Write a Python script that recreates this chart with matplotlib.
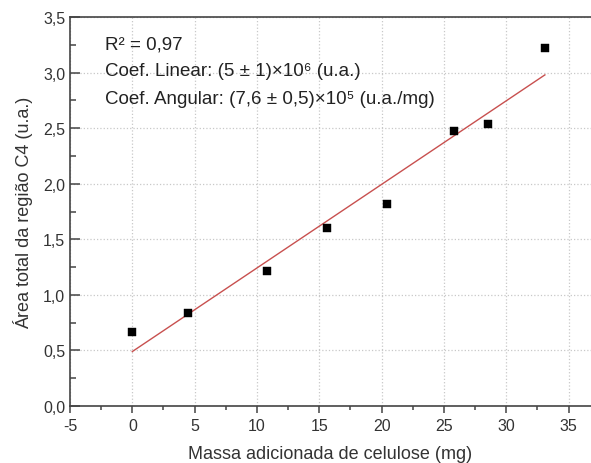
import numpy as np
import matplotlib
matplotlib.use("Agg")
import matplotlib.pyplot as plt
from matplotlib.ticker import MultipleLocator, FuncFormatter

plt.rcParams['font.family'] = ['Liberation Sans', 'DejaVu Sans']

# data
massa = [0.0, 4.5, 10.8, 15.6, 20.4, 25.8, 28.5, 33.1]
area = [0.665, 0.838, 1.218, 1.599, 1.814, 2.475, 2.535, 3.224]
# linear fit shown
fit_intercept = 0.49
fit_slope = 0.0752

info_lines = [
    "R² = 0,97",
    "Coef. Linear: (5 ± 1)×10⁶ (u.a.)",
    "Coef. Angular: (7,6 ± 0,5)×10⁵ (u.a./mg)",
]

fig = plt.figure(figsize=(5.91, 4.64), dpi=100)
ax = fig.add_axes([70 / 591, 57 / 464, 521 / 591, 389 / 464])

xf = np.array([massa[0], massa[-1]])
ax.plot(xf, fit_intercept + fit_slope * xf, color='#c8504f', lw=1.0, zorder=2)
ax.plot(massa, area, 's', color='black', ms=6.0, mew=0.3, zorder=3)

ax.set_xlim(-5, 36.8)
ax.set_ylim(0, 3.5)
ax.xaxis.set_major_locator(MultipleLocator(5))
ax.xaxis.set_minor_locator(MultipleLocator(2.5))
ax.yaxis.set_major_locator(MultipleLocator(0.5))
ax.yaxis.set_minor_locator(MultipleLocator(0.25))
ax.yaxis.set_major_formatter(FuncFormatter(lambda v, p: f"{v:.1f}".replace('.', ',')))
ax.xaxis.set_major_formatter(FuncFormatter(lambda v, p: f"{v:g}"))

ax.grid(True, which='major', color='#c8c8c8', linestyle=':', lw=0.9)
ax.set_axisbelow(True)

for s in ['left', 'bottom', 'top']:
    ax.spines[s].set_color('#444444')
    ax.spines[s].set_linewidth(1.2)
ax.spines['right'].set_visible(False)

ax.tick_params(axis='x', which='major', direction='out', length=5, width=1.1,
               colors='#444444', labelsize=11.5, labelcolor='#333333')
ax.tick_params(axis='x', which='minor', direction='out', length=3, width=1.1, colors='#444444')
ax.tick_params(axis='y', which='major', direction='in', length=7, width=1.1,
               colors='#444444', labelsize=11.5, labelcolor='#333333')
ax.tick_params(axis='y', which='minor', direction='in', length=4, width=1.1, colors='#444444')

ax.set_xlabel("Massa adicionada de celulose (mg)", fontsize=13, color='#333333', labelpad=9)
ax.set_ylabel("Área total da região C4 (u.a.)", fontsize=13, color='#333333', labelpad=7)

for i, line in enumerate(info_lines):
    fig.text(105 / 591, 1 - (45 + 27 * i) / 464, line, fontsize=13.5,
             color='#222222', va='center', ha='left')

fig.savefig("out.png", dpi=100)
